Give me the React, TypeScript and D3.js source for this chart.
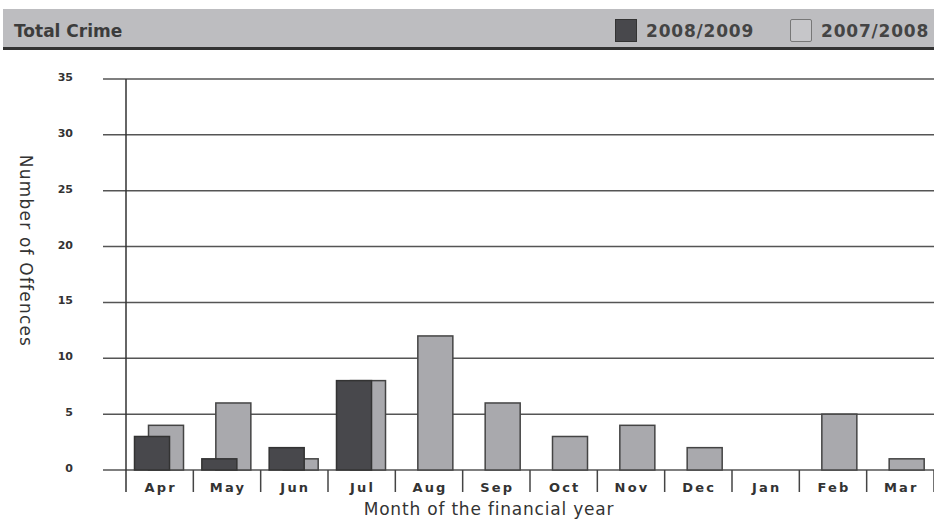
import React from 'react';
import * as d3 from 'd3';

const months = ['Apr', 'May', 'Jun', 'Jul', 'Aug', 'Sep', 'Oct', 'Nov', 'Dec', 'Jan', 'Feb', 'Mar'];
const current = [3, 1, 2, 8, 0, 0, 0, 0, 0, 0, 0, 0]; // 2008/2009
const previous = [4, 6, 1, 8, 12, 6, 3, 4, 2, 0, 5, 1]; // 2007/2008
const yTicks = [0, 5, 10, 15, 20, 25, 30, 35];

const W = 934;
const H = 519;
const font = '"DejaVu Sans", Verdana, sans-serif';

export default function App() {
  const x = d3.scaleBand<string>().domain(months).range([126, 934]);
  const y = d3.scaleLinear().domain([0, 35]).range([470, 79]);
  const bw = x.bandwidth();
  const barW = bw * 0.52;

  return (
    <svg width={W} height={H} style={{ position: 'absolute', left: 0, top: 0, background: '#fff' }}>
      {/* header */}
      <rect x={3} y={9} width={W - 3} height={39} fill="#bdbdc0" />
      <rect x={3} y={47} width={W - 3} height={3} fill="#333" />
      <text x={14} y={37} fontFamily={font} fontWeight="bold" fontSize={17} fill="#3c3c3c">Total Crime</text>
      <rect x={615.5} y={19.5} width={21} height={22} fill="#48484c" stroke="#333" strokeWidth={1} />
      <text x={646} y={37} fontFamily={font} fontWeight="bold" fontSize={17} letterSpacing={0.8} fill="#444">2008/2009</text>
      <rect x={790.5} y={19.5} width={21} height={22} fill="#c6c6c9" stroke="#777" strokeWidth={1} rx={1.5} />
      <text x={821} y={37} fontFamily={font} fontWeight="bold" fontSize={17} letterSpacing={0.8} fill="#444">2007/2008</text>

      {/* grid */}
      {yTicks.map(t => (
        <g key={t}>
          <line x1={103} x2={W} y1={y(t)} y2={y(t)} stroke="#555" strokeWidth={1.5} />
          <text x={73} y={y(t) + 2} textAnchor="end" fontFamily={font} fontWeight="bold" fontSize={11} fill="#333">{t}</text>
        </g>
      ))}

      {/* bars */}
      {months.map((m, i) => (
        <g key={m}>
          {previous[i] > 0 && (
            <rect x={(x(m) ?? 0) + 22.5} y={y(previous[i])} width={barW} height={y(0) - y(previous[i])}
              fill="#a9a9ad" stroke="#444" strokeWidth={1.5} />
          )}
          {current[i] > 0 && (
            <rect x={(x(m) ?? 0) + 8.5} y={y(current[i])} width={barW} height={y(0) - y(current[i])}
              fill="#48484c" stroke="#333" strokeWidth={1.5} />
          )}
        </g>
      ))}

      {/* x axis separators and labels */}
      {months.map(m => (
        <g key={m}>
          <line x1={(x(m) ?? 0) + bw} x2={(x(m) ?? 0) + bw} y1={470} y2={492} stroke="#444" strokeWidth={1.5} />
          <text x={(x(m) ?? 0) + bw / 2 + 1} y={492} textAnchor="middle" fontFamily={font} fontWeight="bold" fontSize={13} letterSpacing={2.2} fill="#333">{m}</text>
        </g>
      ))}
      <line x1={126} x2={126} y1={79} y2={492} stroke="#333" strokeWidth={1.5} />

      <text x={489} y={515} textAnchor="middle" fontFamily={font} fontSize={17} letterSpacing={0.8} fill="#333">Month of the financial year</text>
      <text transform="translate(20,251) rotate(90)" textAnchor="middle" fontFamily={font} fontSize={17} letterSpacing={1.2} fill="#333">Number of Offences</text>
    </svg>
  );
}
